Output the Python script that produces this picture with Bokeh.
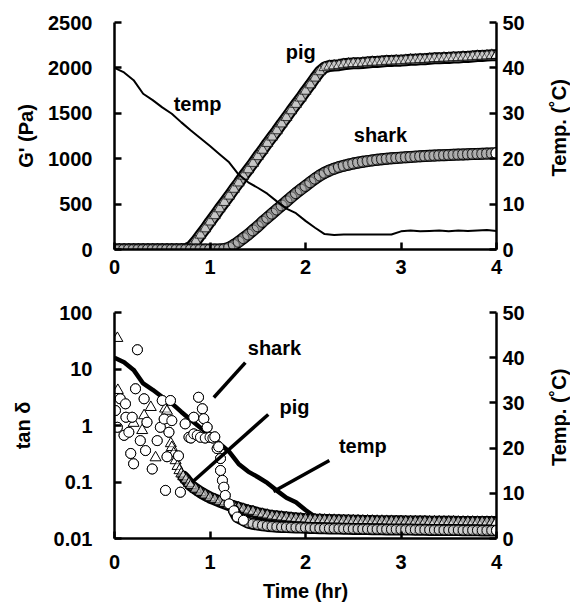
import math
from bokeh.plotting import figure
from bokeh.models import Range1d, LinearAxis, FixedTicker, Label, LinearScale, NumeralTickFormatter
from bokeh.layouts import column, row
from bokeh.embed import file_html
from bokeh.resources import INLINE

FONT = "Liberation Sans"
FS = "20px"

# ---------------- data ----------------
time_g = [0.00, 0.05, 0.10, 0.15, 0.20, 0.25, 0.30, 0.35, 0.40, 0.45,
          0.50, 0.55, 0.60, 0.65, 0.70, 0.75, 0.80, 0.85, 0.90, 0.95,
          1.00, 1.05, 1.10, 1.15, 1.20, 1.25, 1.30, 1.35, 1.40, 1.45,
          1.50, 1.55, 1.60, 1.65, 1.70, 1.75, 1.80, 1.85, 1.90, 1.95,
          2.00, 2.05, 2.10, 2.15, 2.20, 2.25, 2.30, 2.35, 2.40, 2.45,
          2.50, 2.55, 2.60, 2.65, 2.70, 2.75, 2.80, 2.85, 2.90, 2.95,
          3.00, 3.05, 3.10, 3.15, 3.20, 3.25, 3.30, 3.35, 3.40, 3.45,
          3.50, 3.55, 3.60, 3.65, 3.70, 3.75, 3.80, 3.85, 3.90, 3.95, 4.00]

pig_g = [0, 0, 0, 0, 0, 0, 0, 0, 0, 0, 0, 0, 0, 0, 0,
         5, 30, 90, 160, 230, 305,
         375, 450, 520, 590, 665, 735, 810, 880, 950, 1025,
         1095, 1170, 1240, 1310, 1385, 1455, 1530, 1600, 1670, 1745,
         1815, 1890, 1960, 2005, 2020, 2025, 2030, 2040, 2045, 2050,
         2050, 2055, 2060, 2065, 2065, 2070, 2075, 2075, 2080, 2080,
         2085, 2090, 2090, 2095, 2095, 2100, 2105, 2105, 2110, 2110,
         2115, 2115, 2120, 2120, 2125, 2130, 2130, 2135, 2140, 2140]

shark_g = [0, 0, 0, 0, 0, 0, 0, 0, 0, 0, 0, 0, 0, 0, 0, 0, 0, 0, 0, 0, 0, 0, 0,
           5, 20, 50, 85, 125, 165, 210, 255,
           305, 350, 395, 440, 485, 530, 575, 620, 660, 700,
           740, 780, 815, 845, 870, 890, 908, 922, 935, 947,
           957, 966, 974, 981, 988, 994, 999, 1004, 1008, 1012,
           1016, 1019, 1023, 1026, 1029, 1032, 1034, 1037, 1039, 1041,
           1043, 1045, 1047, 1049, 1051, 1053, 1054, 1056, 1058, 1060]

temp_t = [0.0, 0.1, 0.2, 0.3, 0.4, 0.5, 0.6, 0.7, 0.8, 0.9,
          1.0, 1.1, 1.2, 1.3, 1.4, 1.5, 1.6, 1.7, 1.8, 1.9,
          2.0, 2.1, 2.2, 2.3, 2.4, 2.5, 2.6, 2.7, 2.8, 2.9,
          3.0, 3.1, 3.2, 3.3, 3.4, 3.5, 3.6, 3.7, 3.8, 3.9, 4.0]
temp_c = [40.0, 39.0, 37.3, 34.3, 32.9, 31.3, 29.9, 28.0, 26.2, 24.5,
          22.8, 21.0, 19.2, 16.5, 14.8, 13.6, 12.3, 10.6, 9.0, 8.0,
          6.3, 4.8, 3.4, 3.2, 3.3, 3.3, 3.3, 3.3, 3.3, 3.3,
          4.0, 4.2, 4.0, 4.1, 4.2, 4.0, 4.2, 4.1, 4.2, 4.3, 4.1]

# tan delta, pig (triangles)
pig_tan_t_early = [0.03, 0.035, 0.20, 0.29, 0.31, 0.38, 0.43, 0.53, 0.55, 0.59,
                   0.60, 0.62, 0.64, 0.66, 0.68, 0.70, 0.72, 0.75, 0.78, 0.80,
                   0.85, 0.90, 0.95, 1.00]
pig_tan_early = [35.0, 4.2, 1.1, 0.82, 1.5, 2.1, 0.27, 1.97, 1.8, 0.48,
                 0.41, 0.32, 0.24, 0.19, 0.16, 0.14, 0.125, 0.11, 0.095, 0.087,
                 0.075, 0.066, 0.059, 0.053]
pig_tan_late = [0.049, 0.045, 0.042, 0.039, 0.037, 0.035, 0.033, 0.031, 0.030, 0.028,
                0.027, 0.026, 0.025, 0.0245, 0.024, 0.0235, 0.023, 0.0226, 0.0223, 0.0220,
                0.0218, 0.0216, 0.0215, 0.0213, 0.0212, 0.0211, 0.0210, 0.0209, 0.0208, 0.0207,
                0.0206, 0.0205, 0.0205, 0.0204, 0.0203, 0.0203, 0.0202, 0.0202, 0.0201, 0.0201,
                0.0200, 0.0200, 0.0199, 0.0199, 0.0199, 0.0198, 0.0198, 0.0198, 0.0197, 0.0197,
                0.0197, 0.0196, 0.0196, 0.0196, 0.0196, 0.0195, 0.0195, 0.0195, 0.0195, 0.0195]
pig_tan_t = pig_tan_t_early + time_g[21:]
pig_tan = pig_tan_early + pig_tan_late

# tan delta, shark (circles)
shark_tan_t_early = [0.01, 0.03, 0.06, 0.10, 0.115, 0.12, 0.15, 0.17, 0.185, 0.20,
                     0.22, 0.24, 0.27, 0.31, 0.325, 0.34, 0.395, 0.447, 0.48, 0.50,
                     0.52, 0.534, 0.55, 0.57, 0.586, 0.60, 0.67, 0.69, 0.74, 0.78,
                     0.80, 0.83, 0.83, 0.866, 0.88, 0.90, 0.92, 0.935, 0.95, 0.97,
                     1.00, 1.03, 1.05, 1.075, 1.09, 1.11, 1.11, 1.13, 1.145, 1.16,
                     1.20, 1.25, 1.285, 1.35]
shark_tan_early = [1.84, 0.93, 2.97, 0.67, 2.42, 1.4, 0.76, 0.32, 1.4, 0.21,
                   4.47, 21.9, 0.54, 2.97, 0.36, 1.14, 0.17, 0.54, 0.93, 2.77,
                   1.3, 0.071, 0.28, 0.76, 2.77, 1.22, 0.29, 0.066, 1.07, 0.62,
                   0.60, 0.71, 1.40, 0.67, 3.16, 0.62, 1.98, 1.32, 0.60, 0.93,
                   0.62, 0.60, 0.63, 0.39, 0.42, 0.26, 0.16, 0.107, 0.081, 0.058,
                   0.041, 0.031, 0.024, 0.021]
shark_tan_late = [0.0190, 0.0182, 0.0176, 0.0171, 0.0167, 0.0164, 0.0162, 0.0160, 0.0159, 0.0158,
                  0.0157, 0.0156, 0.0155, 0.0154, 0.0153, 0.0152, 0.0152, 0.0151, 0.0150, 0.0150,
                  0.0149, 0.0149, 0.0148, 0.0148, 0.0147, 0.0147, 0.0146, 0.0146, 0.0146, 0.0145,
                  0.0145, 0.0145, 0.0144,
                  0.0144, 0.0144, 0.0143, 0.0143, 0.0143, 0.0142, 0.0142, 0.0142, 0.0141, 0.0141,
                  0.0141, 0.0141, 0.0140, 0.0140, 0.0140, 0.0140, 0.0139, 0.0139, 0.0139, 0.0139]
shark_tan_t = shark_tan_t_early + time_g[28:]
shark_tan = shark_tan_early + shark_tan_late

x_ticks = [0, 1, 2, 3, 4]
g_ticks = [0, 500, 1000, 1500, 2000, 2500]
tan_ticks = [0.01, 0.1, 1, 10, 100]
temp_ticks = [0, 10, 20, 30, 40, 50]

# annotations (text, x, y) and leader lines (x0, y0, x1, y1) in data units
top_labels = [("temp", 0.87, 1600), ("pig", 1.95, 2170), ("shark", 2.785, 1265)]
bot_labels = [("shark", 1.675, 24.0), ("pig", 1.885, 2.1), ("temp", 2.6, 0.44)]
lead_x0 = [1.04, 0.81, 1.665]
lead_y0 = [3.13, 0.098, 0.068]
lead_x1 = [1.37, 1.61, 2.25]
lead_y1 = [13.0, 1.57, 0.24]
right_title = "Temp. (˚C)"


def style_axis(ax, tick_standoff, label_standoff):
    ax.axis_line_width = 2.5
    ax.axis_line_color = "black"
    ax.major_tick_in = 7
    ax.major_tick_out = 0
    ax.major_tick_line_width = 2.5
    ax.major_tick_line_color = "black"
    ax.minor_tick_line_color = None
    ax.major_label_text_font = FONT
    ax.major_label_text_font_style = "bold"
    ax.major_label_text_font_size = FS
    ax.major_label_text_color = "black"
    ax.major_label_standoff = tick_standoff
    ax.axis_label_text_font = FONT
    ax.axis_label_text_font_style = "bold"
    ax.axis_label_text_font_size = FS
    ax.axis_label_text_color = "black"
    ax.axis_label_standoff = label_standoff


def add_label(p, text, x, y, **kw):
    p.add_layout(Label(x=x, y=y, text=text, text_font=FONT, text_font_style="bold",
                       text_font_size=FS, text_align="center", text_baseline="middle",
                       text_color="black", **kw))


def ribbon(p, xs, ys, shade):
    # the densely overlapping markers of the original read as a dark-edged grey band
    p.line(xs, ys, line_color="black", line_width=12, line_join="round", line_cap="round")
    p.line(xs, ys, line_color=shade, line_width=8, line_join="round", line_cap="round")


def side_title(height, mb_top, mb_bottom):
    # narrow strip right of a panel holding its right-axis title, reading bottom-to-top
    s = figure(width=25, height=height, x_range=Range1d(0, 1), y_range=Range1d(0, 50),
               x_axis_location=None, y_axis_location=None,
               output_backend="svg", toolbar_location=None,
               min_border_left=0, min_border_right=0,
               min_border_top=mb_top, min_border_bottom=mb_bottom)
    s.outline_line_color = None
    s.grid.visible = False
    add_label(s, right_title, 0.52, 26.8, angle=math.pi / 2)
    return s


# ---------------- top panel ----------------
top = figure(width=545, height=290, x_range=Range1d(0, 4), y_range=Range1d(0, 2500),
             output_backend="svg", toolbar_location=None,
             min_border_left=114, min_border_right=49, min_border_top=22, min_border_bottom=41)
top.outline_line_color = None
top.grid.visible = False
top.extra_y_ranges = {"temp": Range1d(0, 50)}

ribbon(top, time_g, pig_g, "#a8a8a8")
top.scatter(time_g, pig_g, marker="triangle", size=11, fill_color="white", fill_alpha=0.35,
            line_color="black", line_width=1, line_alpha=0.7)
ribbon(top, time_g, shark_g, "#5c5c5c")
top.scatter(time_g, shark_g, marker="circle", size=11, fill_color="white", fill_alpha=0.3,
            line_color="black", line_width=1, line_alpha=0.8)
top.scatter(time_g[-1:], pig_g[-1:], marker="triangle", size=11, fill_color="white",
            line_color="black", line_width=1)
top.scatter(time_g[-1:], shark_g[-1:], marker="circle", size=11, fill_color="white",
            line_color="black", line_width=1)
top.line(temp_t, temp_c, y_range_name="temp", line_color="black", line_width=2)

top.xaxis.ticker = FixedTicker(ticks=x_ticks)
top.yaxis.ticker = FixedTicker(ticks=g_ticks)
top.yaxis.axis_label = "G' (Pa)"
style_axis(top.xaxis[0], 10, 8)
style_axis(top.yaxis[0], 22, 8)
r_top = LinearAxis(y_range_name="temp", ticker=FixedTicker(ticks=temp_ticks))
style_axis(r_top, 6, 12)
top.add_layout(r_top, "right")
for t, x, y in top_labels:
    add_label(top, t, x, y)

# ---------------- bottom panel ----------------
bot = figure(width=545, height=316, x_range=Range1d(0, 4), y_range=Range1d(0.01, 100),
             y_axis_type="log", output_backend="svg", toolbar_location=None,
             min_border_left=114, min_border_right=49, min_border_top=22, min_border_bottom=68)
bot.outline_line_color = None
bot.grid.visible = False
bot.extra_y_ranges = {"temp": Range1d(0, 50)}
bot.extra_y_scales = {"temp": LinearScale()}

bot.line(temp_t, temp_c, y_range_name="temp", line_color="black", line_width=4.5)
ribbon(bot, pig_tan_t[16:], pig_tan[16:], "#4a4a4a")
bot.scatter(pig_tan_t, pig_tan, marker="triangle", size=11, fill_color="white", fill_alpha=0.5,
            line_color="black", line_width=1)
ribbon(bot, shark_tan_t[51:], shark_tan[51:], "#3a3a3a")
bot.scatter(shark_tan_t, shark_tan, marker="circle", size=10, fill_color="white", fill_alpha=0.5,
            line_color="black", line_width=1)
bot.scatter(shark_tan_t_early, shark_tan_early, marker="circle", size=10, fill_color="white",
            line_color="black", line_width=1)
bot.scatter(pig_tan_t[-1:], pig_tan[-1:], marker="triangle", size=11, fill_color="white",
            line_color="black", line_width=1)
bot.scatter(shark_tan_t[-1:], shark_tan[-1:], marker="circle", size=10, fill_color="white",
            line_color="black", line_width=1)
bot.segment(lead_x0, lead_y0, lead_x1, lead_y1, line_color="black", line_width=3.5)

bot.xaxis.ticker = FixedTicker(ticks=x_ticks)
bot.xaxis.axis_label = "Time (hr)"
bot.yaxis.ticker = FixedTicker(ticks=tan_ticks)
bot.yaxis.formatter = NumeralTickFormatter(format="0.[00]")
bot.yaxis.axis_label = "tan δ"
style_axis(bot.xaxis[0], 16, 8)
style_axis(bot.yaxis[0], 22, 17)
r_bot = LinearAxis(y_range_name="temp", ticker=FixedTicker(ticks=temp_ticks))
style_axis(r_bot, 6, 12)
bot.add_layout(r_bot, "right")
for t, x, y in bot_labels:
    add_label(bot, t, x, y)

layout = column(row(top, side_title(290, 22, 41), spacing=0),
                row(bot, side_title(316, 22, 68), spacing=0), spacing=0)
open("out.html", "w").write(file_html(layout, INLINE))
